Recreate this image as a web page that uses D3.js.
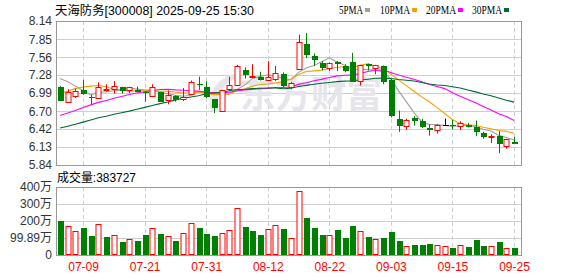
<!DOCTYPE html>
<html><head><meta charset="utf-8">
<script src="https://cdn.jsdelivr.net/npm/d3@7"></script>
<style>body{margin:0;background:#fff}svg{display:block}</style>
</head><body><svg id="c" width="578" height="276"></svg>
<script>
const dates = ["07-04","07-07","07-08","07-09","07-10","07-11","07-14","07-15","07-16","07-17","07-18","07-21","07-22","07-23","07-24","07-25","07-28","07-29","07-30","07-31",
"08-01","08-04","08-05","08-06","08-07","08-08","08-11","08-12","08-13","08-14","08-15","08-18","08-19","08-20","08-21","08-22","08-25","08-26","08-27","08-28","08-29",
"09-01","09-02","09-03","09-04","09-05","09-08","09-09","09-10","09-11","09-12","09-15","09-16","09-17","09-18","09-19","09-22","09-23","09-24","09-25"];
const opens  = [7.09,6.85,6.95,7.03,6.93,6.91,7.04,7.05,7.09,7.03,7.04,7.01,6.95,7.00,6.88,6.95,6.89,6.97,7.14,7.08,
6.89,6.70,7.06,7.11,7.36,7.25,7.25,7.20,7.21,7.29,7.09,7.37,7.78,7.58,7.47,7.39,7.49,7.42,7.49,7.18,7.45,
7.39,7.42,7.19,6.58,6.47,6.59,6.54,6.43,6.40,6.48,6.48,6.47,6.48,6.45,6.35,6.30,6.31,6.14,6.20];
const highs  = [7.10,7.05,7.06,7.20,6.96,7.16,7.13,7.18,7.09,7.09,7.09,7.02,7.13,7.01,7.03,6.95,7.07,7.19,7.25,7.18,
6.89,7.04,7.25,7.44,7.40,7.45,7.33,7.50,7.42,7.32,7.17,7.92,7.95,7.62,7.50,7.48,7.50,7.45,7.63,7.44,7.46,
7.44,7.43,7.22,6.71,6.58,6.62,6.58,6.49,6.49,6.58,6.56,6.54,6.51,6.55,6.37,6.33,6.38,6.26,6.29];
const lows   = [6.86,6.85,6.91,6.96,6.81,6.90,7.01,6.98,6.98,6.99,7.00,6.85,6.93,6.85,6.81,6.85,6.86,6.97,7.04,6.91,
6.67,6.69,7.02,7.11,7.22,7.24,7.19,7.18,7.18,7.08,7.05,7.37,7.55,7.42,7.35,7.34,7.34,7.32,7.17,7.11,7.35,
7.29,7.13,6.60,6.37,6.40,6.47,6.43,6.31,6.34,6.48,6.41,6.40,6.44,6.30,6.26,6.19,6.03,6.10,6.18];
const closes = [6.87,7.01,7.02,6.98,6.92,7.08,7.05,7.10,7.02,7.08,7.01,6.99,7.08,6.85,6.96,6.88,6.92,7.16,7.13,6.92,
6.75,7.03,7.11,7.42,7.27,7.267,7.20,7.24,7.31,7.10,7.15,7.80,7.59,7.51,7.39,7.47,7.46,7.34,7.17,7.43,7.42,
7.43,7.17,6.63,6.47,6.56,6.55,6.45,6.40,6.48,6.48,6.46,6.51,6.45,6.36,6.28,6.31,6.18,6.26,6.18];
// 成交量 (万)
const volumes = [199,170,140,158,111,185,105,115,76,92,82,117,156,123,111,82,127,191,158,123,
111,127,150,279,164,140,117,152,174,152,100,375,219,160,117,117,146,100,170,140,105,
94,100,135,82,53,59,59,64,59,53,41,59,47,88,53,53,76,41,38.37];
const ma5Head  = [7.22,7.17,7.10,7.03];
const ma10Head = [6.99,7.02,7.06,7.085,7.10,7.11,7.09,7.05,7.04];
const ma20Head = [6.63,6.67,6.71,6.76,6.80,6.84,6.87,6.905,6.935,6.965,6.99,7.01,7.03,7.045,7.05,7.04,7.035,7.025,7.02];
const ma30Head = [6.43,6.46,6.49,6.525,6.56,6.595,6.62,6.65,6.675,6.70,6.73,6.76,6.79,6.82,6.845,6.88,6.905,6.926,6.947,6.979,
6.99,7.00,7.027,7.045,7.05,7.06,7.065,7.07,7.07];
const priceTicks = [8.14,7.85,7.56,7.28,6.99,6.70,6.42,6.13,5.84];
const volTicks = [400,300,200,99.89,0];
const volTickLabels = ["400万","300万","200万","99.89万","0"];
const dateTicks = ["07-09","07-21","07-31","08-12","08-22","09-03","09-15","09-25"];
const maNames = ["5PMA","10PMA","20PMA","30PMA"];
const titleText = "天海防务[300008] 2025-09-25 15:30";
const volText = "成交量:383727";

function ma(n, head){
  return closes.map((c,i)=> i < head.length ? head[i] : d3.mean(closes.slice(i-n+1,i+1)));
}
const maSeries = [ma(5,ma5Head), ma(10,ma10Head), ma(20,ma20Head), ma(30,ma30Head)];
const maColors = ["#a0a0a0","#f5a000","#ff00ff","#006a30"];

const L=56,R=522,T=21,B=165,VT=187,VB=255;
const RED="#ff0000", GREEN="#008000";
const svg = d3.select("#c");
const x = d3.scalePoint().domain(dates).range([60,514]);
const y = d3.scaleLinear().domain([5.84,8.14]).range([B,T]);
const yv = d3.scaleLinear().domain([0,400]).range([VB,VT]);
const px = d => Math.round(x(d));
const fontSans = "'Liberation Sans', Arial, 'Noto Sans CJK SC', sans-serif";

// grids
const g = svg.append("g");
g.selectAll(".hp").data(priceTicks.slice(1,-1)).join("line")
  .attr("x1",L).attr("x2",R).attr("y1",d=>Math.round(y(d))+0.5).attr("y2",d=>Math.round(y(d))+0.5)
  .attr("stroke","#cfcfcf");
g.selectAll(".hv").data(volTicks.slice(1,-1)).join("line")
  .attr("x1",L).attr("x2",R).attr("y1",d=>Math.round(yv(d))+0.5).attr("y2",d=>Math.round(yv(d))+0.5)
  .attr("stroke","#cfcfcf");
[[T,B],[VT,VB]].forEach(([a,b])=>{
  g.append("g").selectAll("line").data(dateTicks).join("line")
   .attr("x1",d=>px(d)+0.5).attr("x2",d=>px(d)+0.5).attr("y1",a).attr("y2",b)
   .attr("stroke","#cfcfcf").attr("stroke-dasharray","4,3");
});

// watermark
const wm = svg.append("g").attr("fill","#e5e5ea");
wm.append("path").attr("d","M233,74 C214,80 205,99 212,112 L219,112 C214,99 221,85 236,78 Z");
wm.append("text").attr("x",240).attr("y",108).attr("font-family","'Noto Sans CJK SC'")
  .attr("font-weight",700).attr("font-size",37).attr("textLength",142).attr("lengthAdjust","spacingAndGlyphs")
  .text("东方财富");

// borders
svg.append("rect").attr("x",L+0.5).attr("y",T+0.5).attr("width",R-L-1).attr("height",B-T)
  .attr("fill","none").attr("stroke","#999");
svg.append("rect").attr("x",L+0.5).attr("y",VT+0.5).attr("width",R-L-1).attr("height",VB-VT)
  .attr("fill","none").attr("stroke","#999");

// MA lines
const line = d3.line().x((d,i)=>x(dates[i])).y(d=>y(d));
svg.append("g").selectAll("path").data(maSeries).join("path")
  .attr("d",line).attr("fill","none").attr("stroke",(d,i)=>maColors[i]).attr("stroke-width",1.1);

// candles
const candles = svg.append("g").selectAll("g").data(dates).join("g");
const col = i => closes[i]>opens[i]?RED:(closes[i]<opens[i]?GREEN:"#000");
candles.append("line")
  .attr("x1",(d)=>px(d)+0.5).attr("x2",(d)=>px(d)+0.5)
  .attr("y1",(d,i)=>y(highs[i])).attr("y2",(d,i)=>y(lows[i]))
  .attr("stroke",(d,i)=>col(i));
candles.append("rect")
  .each(function(d,i){
    const top=y(Math.max(opens[i],closes[i])), bot=y(Math.min(opens[i],closes[i]));
    const s=d3.select(this), cx=px(d);
    if(closes[i]>opens[i]){
      s.attr("x",cx-2).attr("y",Math.round(top)+0.5).attr("width",5)
       .attr("height",Math.max(1,Math.round(bot)-Math.round(top))).attr("fill","#fff").attr("stroke",RED);
    } else {
      s.attr("x",cx-2.5+0.5).attr("y",Math.round(top)).attr("width",6)
       .attr("height",Math.max(1,Math.round(bot)-Math.round(top))).attr("fill",col(i));
    }
  });

// volume bars
const vcol = i => i===0 ? col(0) : (closes[i]>=closes[i-1]?RED:GREEN);
svg.append("g").selectAll("rect").data(dates).join("rect")
  .each(function(d,i){
    const s=d3.select(this), cx=px(d), top=Math.round(yv(volumes[i]));
    if(vcol(i)===RED){
      s.attr("x",cx-2).attr("y",top+0.5).attr("width",5).attr("height",VB-top-1)
       .attr("fill","#fff").attr("stroke",RED);
    } else {
      s.attr("x",cx-2).attr("y",top).attr("width",6).attr("height",VB-top).attr("fill",GREEN);
    }
  });

// axes
const ya = svg.append("g").attr("transform",`translate(${L},0)`)
  .call(d3.axisLeft(y).tickValues(priceTicks).tickSize(0).tickPadding(4).tickFormat(d3.format(".2f")));
const va = svg.append("g").attr("transform",`translate(${L},0)`)
  .call(d3.axisLeft(yv).tickValues(volTicks).tickSize(0).tickPadding(4).tickFormat((d,i)=>volTickLabels[i]));
const xa = svg.append("g").attr("transform",`translate(0,${VB})`)
  .call(d3.axisBottom(x).tickValues(dateTicks).tickSize(0).tickPadding(7));
[ya,va,xa].forEach(a=>{a.select(".domain").remove();
  a.selectAll("text").attr("font-family",fontSans).attr("font-size",12);});
ya.selectAll("text").attr("fill","#333");
va.selectAll("text").attr("fill","#333");
xa.selectAll("text").attr("fill",RED);

// title
svg.append("text").attr("x",55).attr("y",15).attr("font-family",fontSans).attr("font-size",12)
  .attr("fill","#000").attr("textLength",199).attr("lengthAdjust","spacingAndGlyphs").text(titleText);
svg.append("text").attr("x",57).attr("y",182).attr("font-family",fontSans).attr("font-size",12)
  .attr("fill","#000").attr("textLength",79).attr("lengthAdjust","spacingAndGlyphs").text(volText);

// legend
const legX = [339,380,426,472];
const leg = svg.append("g").selectAll("g").data(maNames).join("g");
leg.append("text").attr("x",(d,i)=>legX[i]).attr("y",14)
  .attr("font-family","'Liberation Serif', serif").attr("font-size",13)
  .attr("textLength",d=>d.length*6).attr("lengthAdjust","spacingAndGlyphs").attr("fill","#000").text(d=>d);
leg.append("rect").attr("x",(d,i)=>legX[i]+maNames[i].length*6+2).attr("y",8)
  .attr("width",5).attr("height",4).attr("fill",(d,i)=>maColors[i]);
</script></body></html>
